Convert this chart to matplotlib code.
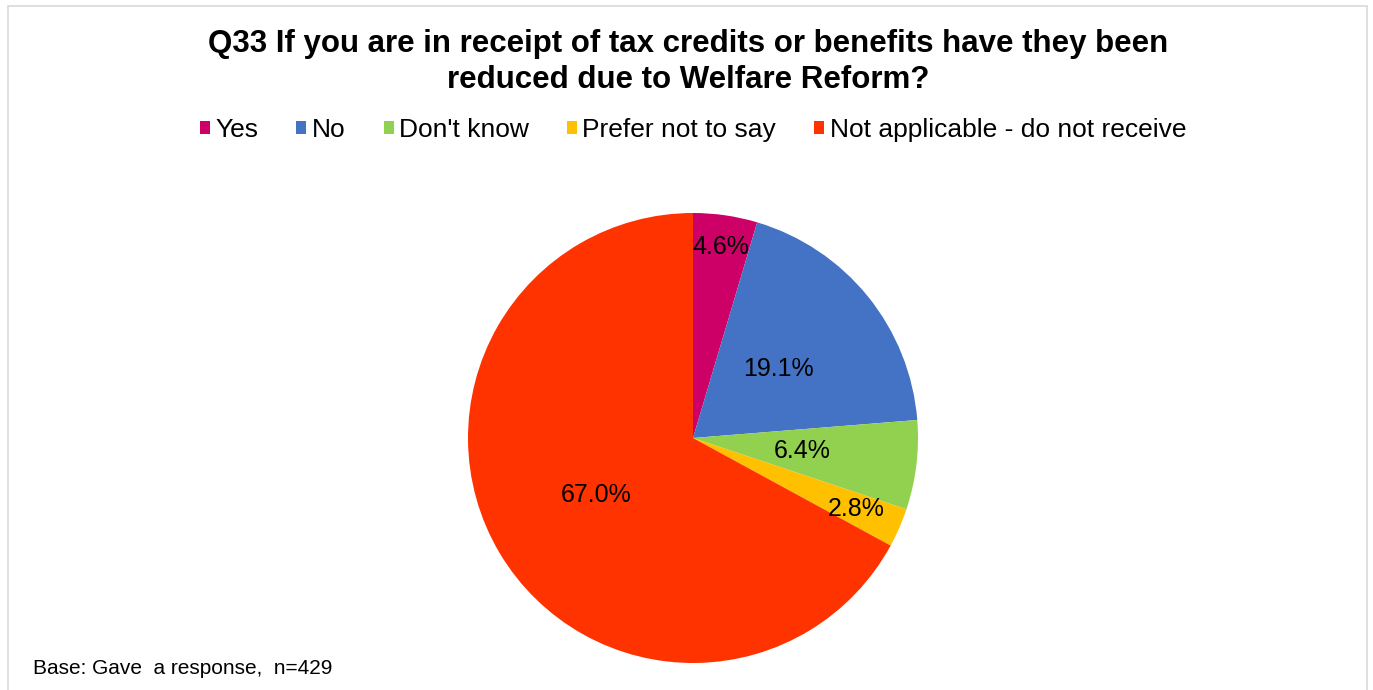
import numpy as np
import matplotlib.pyplot as plt
from matplotlib.patches import Patch, Rectangle

categories = ['Yes', 'No', "Don't know", 'Prefer not to say', 'Not applicable - do not receive']
values = [4.6, 19.1, 6.4, 2.8, 67.0]
colors = ['#CC0066', '#4472C4', '#92D050', '#FFC000', '#FF3300']
# radial position of each percentage label (fraction of radius)
label_dist = [0.86, 0.49, 0.49, 0.79, 0.5]

plt.rcParams['font.family'] = ['Liberation Sans', 'DejaVu Sans']

fig = plt.figure(figsize=(13.73, 6.9), dpi=100)

# light frame around the chart area
fig.patches.append(Rectangle((8 / 1373, -0.01), 1359 / 1373, 1 - 6 / 690 + 0.01,
                             transform=fig.transFigure, fill=False,
                             edgecolor='#D9D9D9', linewidth=1.2))

# pie axes: centre (693, 438), radius 225 px
r = 225
ax = fig.add_axes([(693 - r) / 1373, 1 - (438 + r) / 690, 2 * r / 1373, 2 * r / 690])
wedges, _ = ax.pie(values, colors=colors, startangle=90, counterclock=False,
                   wedgeprops=dict(linewidth=0))
ax.set_aspect('equal')
ax.set_xlim(-1, 1)
ax.set_ylim(-1, 1)

for w, v, d in zip(wedges, values, label_dist):
    ang = np.deg2rad((w.theta1 + w.theta2) / 2)
    ax.text(d * np.cos(ang), d * np.sin(ang), f'{v:.1f}%',
            ha='center', va='center', fontsize=18, color='black')

fig.text(688 / 1373, 1 - 62 / 690,
         'Q33 If you are in receipt of tax credits or benefits have they been\nreduced due to Welfare Reform?',
         ha='center', va='center', fontsize=22.5, fontweight='bold', linespacing=1.3)

handles = [Patch(facecolor=c, edgecolor='none') for c in colors]
fig.legend(handles, categories, loc='center', bbox_to_anchor=(693 / 1373, 1 - 130 / 690),
           ncol=5, frameon=False, fontsize=19, handlelength=0.38, handleheight=0.38,
           handletextpad=0.2, columnspacing=1.45)

fig.text(33 / 1373, 1 - 669 / 690, 'Base: Gave  a response,  n=429',
         ha='left', va='center', fontsize=15)

plt.savefig('out.png', dpi=100)
